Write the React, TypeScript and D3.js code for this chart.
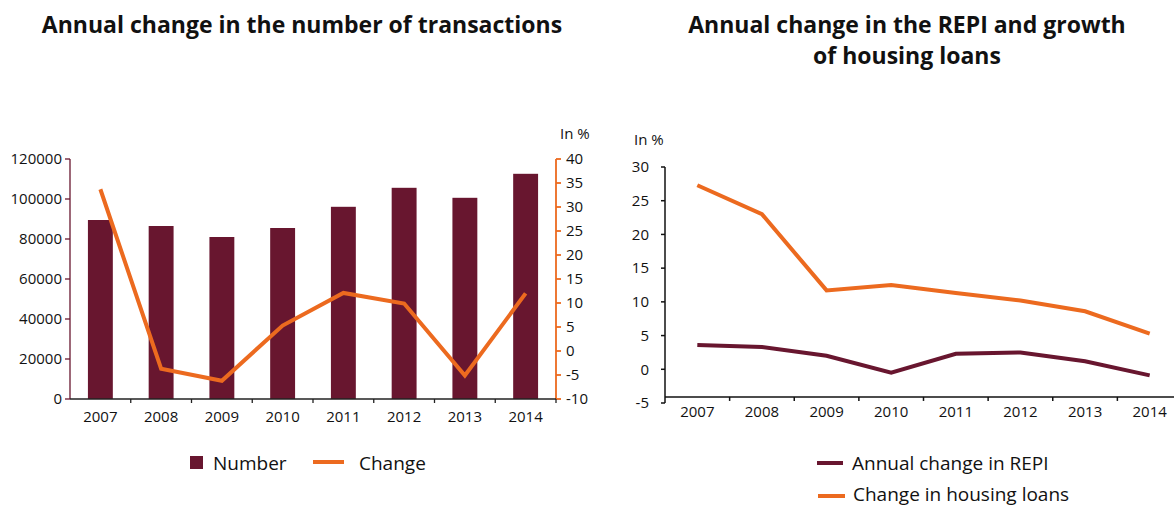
import { scaleBand, scaleLinear, line } from 'd3'

const years = ['2007', '2008', '2009', '2010', '2011', '2012', '2013', '2014']
const transactions = [89500, 86500, 81000, 85500, 96100, 105600, 100600, 112600]
const transactionsChange = [33.7, -3.7, -6.2, 5.3, 12.1, 9.9, -5.1, 12.0]
const repiChange = [3.6, 3.3, 2.0, -0.5, 2.3, 2.5, 1.2, -0.9]
const housingLoans = [27.3, 23.0, 11.7, 12.5, 11.3, 10.2, 8.6, 5.3]

const countTicks = [0, 20000, 40000, 60000, 80000, 100000, 120000]
const changeTicks = [-10, -5, 0, 5, 10, 15, 20, 25, 30, 35, 40]
const pctTicks = [-5, 0, 5, 10, 15, 20, 25, 30]

const MAROON = '#68162f'
const ORANGE = '#ec6a1f'
const FONT = "'Open Sans', 'DejaVu Sans', sans-serif"

function TransactionsChart() {
  const x = scaleBand<string>().domain(years).range([70, 556]).paddingInner(0.59).paddingOuter(0.295)
  const step = x.step()
  const yLeft = scaleLinear().domain([0, 120000]).range([399, 159])
  const yRight = scaleLinear().domain([-10, 40]).range([399, 159])
  const cx = (y: string) => (x(y) ?? 0) + x.bandwidth() / 2

  const changePath = line<number>()
    .x((_, i) => cx(years[i]))
    .y((d) => yRight(d))(transactionsChange)

  return (
    <g fontFamily={FONT}>
      <text x={302} y={33} textAnchor="middle" fontSize={23} fontWeight={700} fill="#111">
        Annual change in the number of transactions
      </text>

      {years.map((yr, i) => (
        <rect key={yr} x={x(yr)} y={yLeft(transactions[i])} width={x.bandwidth()}
          height={yLeft(0) - yLeft(transactions[i])} fill={MAROON} />
      ))}

      {/* left axis */}
      <line x1={70} x2={70} y1={159} y2={399} stroke={MAROON} strokeWidth={1.3} />
      {countTicks.map((t) => (
        <g key={t}>
          <line x1={65} x2={70} y1={yLeft(t)} y2={yLeft(t)} stroke={MAROON} strokeWidth={1.3} />
          <text x={62} y={yLeft(t)} dy="0.35em" textAnchor="end" fontSize={15} fill="#111">{t}</text>
        </g>
      ))}

      {/* right axis */}
      <line x1={556} x2={556} y1={159} y2={399} stroke={ORANGE} strokeWidth={1.8} />
      {changeTicks.map((t) => (
        <g key={t}>
          <line x1={556} x2={561} y1={yRight(t)} y2={yRight(t)} stroke={ORANGE} strokeWidth={1.8} />
          <text x={566} y={yRight(t)} dy="0.35em" fontSize={15} fill="#111">{t}</text>
        </g>
      ))}
      <text x={560} y={139} fontSize={15} fill="#111">In %</text>

      {/* x axis */}
      <line x1={70} x2={556} y1={399} y2={399} stroke="#222" strokeWidth={1.3} />
      {years.map((yr, i) => (
        <line key={yr} x1={70 + step * (i + 1)} x2={70 + step * (i + 1)} y1={399} y2={403} stroke="#222" strokeWidth={1.3} />
      ))}
      {years.map((yr) => (
        <text key={yr} x={cx(yr)} y={422} textAnchor="middle" fontSize={15} fill="#111">{yr}</text>
      ))}

      <path d={changePath ?? ''} fill="none" stroke={ORANGE} strokeWidth={4} />

      {/* legend */}
      <rect x={190} y={456} width={13} height={13} fill={MAROON} />
      <text x={213} y={470} fontSize={19} fill="#111">Number</text>
      <line x1={313} x2={344} y1={462} y2={462} stroke={ORANGE} strokeWidth={4} />
      <text x={359} y={470} fontSize={19} fill="#111">Change</text>
    </g>
  )
}

function RepiChart() {
  const x = scaleBand<string>().domain(years).range([665, 1182])
  const step = x.step()
  const y = scaleLinear().domain([-5, 30]).range([403, 167])
  const cx = (yr: string) => (x(yr) ?? 0) + x.bandwidth() / 2
  const axisY = y(-4.1)

  const mk = line<number>()
    .x((_, i) => cx(years[i]))
    .y((d) => y(d))

  return (
    <g fontFamily={FONT}>
      <text x={907} y={33} textAnchor="middle" fontSize={23} fontWeight={700} fill="#111">
        Annual change in the REPI and growth
      </text>
      <text x={907} y={64} textAnchor="middle" fontSize={23} fontWeight={700} fill="#111">
        of housing loans
      </text>

      <line x1={665} x2={665} y1={167} y2={403} stroke="#111" strokeWidth={1.5} />
      {pctTicks.map((t) => (
        <g key={t}>
          <line x1={661} x2={665} y1={y(t)} y2={y(t)} stroke="#111" strokeWidth={1.5} />
          <text x={649} y={y(t)} dy="0.35em" textAnchor="end" fontSize={15} fill="#111">{t}</text>
        </g>
      ))}
      <text x={634} y={145} fontSize={15} fill="#111">In %</text>

      <line x1={665} x2={1182} y1={axisY} y2={axisY} stroke="#111" strokeWidth={1.5} />
      {years.map((yr, i) => (
        <line key={yr} x1={665 + step * (i + 1)} x2={665 + step * (i + 1)} y1={axisY} y2={axisY + 4} stroke="#111" strokeWidth={1.5} />
      ))}
      {years.map((yr) => (
        <text key={yr} x={cx(yr)} y={417} textAnchor="middle" fontSize={15} fill="#111">{yr}</text>
      ))}

      <path d={mk(housingLoans) ?? ''} fill="none" stroke={ORANGE} strokeWidth={4} />
      <path d={mk(repiChange) ?? ''} fill="none" stroke={MAROON} strokeWidth={4} />

      <line x1={817} x2={843} y1={463} y2={463} stroke={MAROON} strokeWidth={4} />
      <text x={852} y={470} fontSize={19} fill="#111">Annual change in REPI</text>
      <line x1={818} x2={845} y1={496} y2={496} stroke={ORANGE} strokeWidth={4} />
      <text x={853} y={501} fontSize={19} fill="#111">Change in housing loans</text>
    </g>
  )
}

export default function App() {
  return (
    <svg width={1174} height={507} style={{ position: 'absolute', left: 0, top: 0, background: '#fff' }}>
      <TransactionsChart />
      <RepiChart />
    </svg>
  )
}
